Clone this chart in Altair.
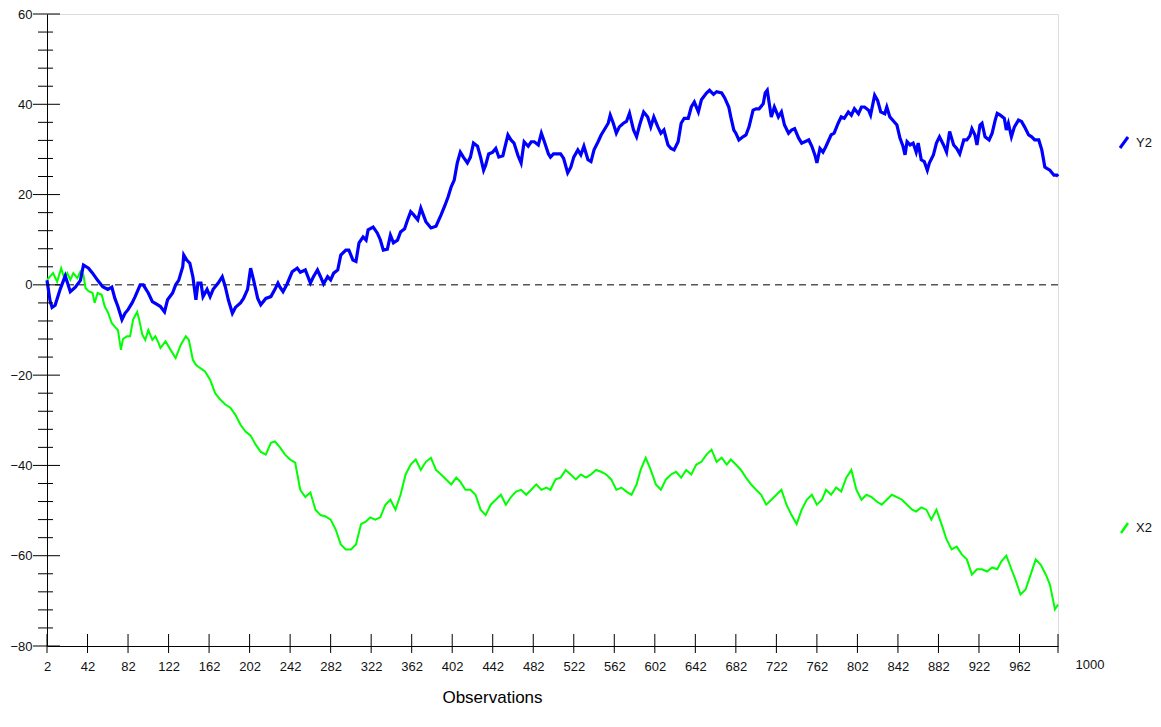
import altair as alt
import pandas as pd

# ---- data ----
y2_obs = [2,5,7,10,15,20,25,30,35,38,43,47,52,57,62,66,69,72,76,79,82,86,89,94,97,102,106,111,114,118,121,126,129,132,136,137,140,143,146,149,151,154,156,160,163,166,171,175,178,181,185,188,193,196,200,203,206,210,213,218,223,227,230,232,235,239,244,249,252,257,262,265,269,272,275,279,282,285,289,292,297,300,304,307,310,314,317,319,324,328,331,334,338,341,344,348,351,355,358,361,364,368,371,376,381,386,391,395,398,401,404,407,410,413,417,420,423,427,430,433,435,438,442,445,448,452,457,460,463,467,470,473,477,480,483,487,490,493,497,499,502,509,512,516,519,522,526,529,532,536,539,542,546,549,552,556,558,561,564,567,571,574,577,581,584,587,591,595,598,601,605,608,611,615,618,621,625,628,631,635,638,641,645,648,653,656,660,663,668,671,675,677,680,682,685,689,692,695,699,702,705,709,711,713,715,717,720,724,727,730,734,737,740,744,747,750,754,757,760,762,765,768,771,776,779,783,786,789,793,796,799,803,806,809,813,815,819,822,825,829,831,834,838,841,844,847,849,851,854,857,860,862,865,868,871,873,877,880,883,887,890,893,897,900,903,907,910,913,915,918,920,923,925,928,932,935,938,940,943,947,949,951,954,957,961,964,967,971,974,977,981,984,987,989,992,996,999,1000]
y2_val = [1.0,-3.5,-5,-4.5,-1,2,-1.5,-0.5,1,4.4,3.7,2.6,1,-0.4,-1,-0.5,-3,-4.8,-7.7,-6.3,-5.5,-4,-2.6,0,0,-1.8,-3.7,-4.4,-4.8,-6,-3.3,-1.8,0,1,4,6.6,5.5,4.8,1.8,-3.3,0.4,0.4,-2.6,-1,-2.6,-1,0.4,1.8,-0.4,-3.3,-6.3,-5,-4,-3,-1,3.7,1,-3,-4.4,-3,-2.6,-1,0.4,-0.5,-1.5,0.2,2.9,3.7,2.8,3.3,0.4,1.8,3.3,1.8,0.2,1.8,1.1,2.6,3.3,6.6,7.7,7.7,5.5,5.2,9.3,10.6,9.9,12.2,12.8,11.5,10,7.7,7.9,11,9.3,9.9,11.7,12.4,14.4,16.2,15.5,14.4,17,14,12.6,13,15.5,17.7,19.5,21.7,23.2,27,29.4,28.3,27,28.3,31.4,30.7,28.3,25.4,26.5,29,29.4,30.2,28.3,28.6,33.2,32.1,31.4,28.6,27,31.7,30.7,31.7,31.7,31,33.6,31.7,29,28.3,29,29,28,24.8,26,28.3,29.9,28.8,30.7,27.7,27.3,29.9,31.7,33.2,34.3,35.8,37.6,35.8,33.6,35,35.8,36.2,38,34.3,32.8,35.4,38.3,37.2,35,37.2,35,33.6,34.3,31,30.2,29.9,31.7,35.8,36.9,36.9,39.4,40.5,38.3,41,42.5,43.1,42.2,42.8,42.5,41.4,39.4,37.2,34.3,33.6,32.1,32.8,33.2,35,38.7,39,39,40.1,42.5,43.1,40.1,37.2,39.4,37.2,38.3,35.4,33.6,34.3,34.6,32.5,31.4,31.7,32.1,30.7,28.8,27,30.2,29.4,30.7,33.2,33.6,35.8,37.2,36.9,38.3,37.6,39,37.9,39.4,39.4,38.7,37.6,42,40.8,38.3,37.9,39.4,37.2,36.2,35.4,32.5,30.7,28.8,31.7,31,31.4,29.4,31.4,27.7,27.3,25.4,27,28.8,31.4,32.8,31,29.4,34,31,30.2,29,32.1,32.1,33,34.6,33.2,31,35.4,35.8,32.8,32.1,33.6,36.5,38,37.6,36.9,34.3,35.8,32.8,35,36.5,36.2,35,33.2,32.8,32.1,32.1,29.9,26.1,25.8,25.4,24.3,24.3,24]

x2_obs = [2,8,12,16,19,22,25,28,32,35,38,40,43,47,49,52,56,59,62,66,69,72,75,77,81,84,87,91,93,96,99,102,106,109,112,114,119,124,129,134,139,142,146,149,153,158,163,168,173,178,183,188,193,198,203,208,213,218,223,227,232,237,242,247,252,257,262,267,272,277,282,287,292,297,302,307,312,317,321,326,331,336,341,346,351,356,361,366,371,376,381,386,391,396,401,406,410,415,420,425,430,435,440,445,450,455,460,465,470,475,480,485,490,495,499,504,509,514,519,524,529,534,539,544,549,554,559,564,569,574,579,584,588,593,598,603,608,613,618,623,628,633,638,643,648,653,658,663,668,673,677,682,687,692,697,702,707,712,717,722,727,732,737,742,747,752,757,762,767,771,776,781,786,791,796,801,806,811,816,821,826,831,836,841,846,851,856,860,865,870,875,880,885,890,895,900,905,910,915,920,925,930,935,940,944,949,954,958,963,968,973,978,983,988,992,997,1000]
x2_val = [1.1,2.6,0.7,3.7,1.5,2.6,1.1,2.6,1.5,3,2.2,-0.7,-1.4,-1.8,-4,-1.8,-2.2,-4.8,-6,-8.5,-9.3,-10,-14.4,-12,-11.4,-11.4,-7.7,-6,-7.7,-11,-12.2,-10,-12.2,-11.4,-12.8,-14,-12.5,-14.4,-16.2,-13.3,-11.4,-12.2,-16.6,-17.7,-18.4,-19.2,-21,-24,-25.4,-26.5,-27.2,-28.8,-31,-32.5,-33.4,-35.4,-37,-37.6,-35,-34.7,-36,-37.6,-38.7,-39.4,-45.4,-47,-46,-49.8,-51,-51.3,-52,-54.2,-57.5,-58.6,-58.6,-57.5,-53,-52.4,-51.5,-52,-51.5,-48.7,-47.6,-49.8,-46.5,-42,-39.8,-38.7,-41,-39.2,-38.3,-41,-42,-43.1,-44.2,-42.7,-43.6,-45.4,-45.4,-46.5,-49.8,-51,-48.7,-47.6,-46.5,-48.7,-47,-45.8,-45.4,-46.5,-45.4,-44.2,-45.4,-44.9,-45.4,-43.1,-42.7,-41,-42,-43.1,-42,-42.7,-42,-41,-41.4,-42,-43.1,-45.4,-44.9,-45.8,-46.5,-44.2,-41,-38.3,-41,-44.2,-45.4,-43.1,-42,-41.4,-42.7,-41,-42,-39.8,-39.2,-37.6,-36.5,-39.2,-38.3,-39.8,-38.7,-39.8,-41,-42.7,-44.2,-45.4,-46.5,-48.7,-47.6,-46.5,-45.4,-48.7,-51,-53,-49.8,-47.6,-46.5,-48.7,-47.6,-45.4,-46.5,-44.9,-45.8,-42.7,-41,-45.4,-47.6,-46.5,-47,-48,-48.7,-47.6,-46.5,-47,-47.6,-48.7,-49.8,-50.2,-49.3,-49.8,-52,-49.8,-53,-56.4,-58.6,-58,-59.7,-60.8,-64.2,-63,-63,-63.5,-62.6,-63,-61.3,-60,-63,-65.3,-68.6,-67.5,-64.2,-60.8,-62,-64.2,-66.4,-71.9,-70.8]

series_names = ["Y2", "X2"]
series_colors = ["#0000ff", "#00ff00"]

x_tick_values = list(range(2, 1000, 40)) + [1000]
x_label_values = list(range(2, 1000, 40))
y_major = list(range(-80, 61, 20))
y_minor = [v for v in range(-80, 61, 4) if v % 20 != 0]
end_label = [1000]

# ---- build tables ----
df_y2 = pd.DataFrame({"obs": y2_obs, "value": y2_val, "series": "Y2"})
df_x2 = pd.DataFrame({"obs": x2_obs, "value": x2_val, "series": "X2"})

W, H = 1011, 632
FONT = "Liberation Sans"

xs = alt.Scale(domain=[2, 1000], nice=False, zero=False)
ys = alt.Scale(domain=[-80, 60], nice=False, zero=False)

x_axis = alt.Axis(values=x_label_values, ticks=False, grid=False, domain=True,
                  domainColor="#000", domainWidth=1, labelFont=FONT, labelFontSize=13,
                  labelColor="#111", labelPadding=20, labelBaseline="middle",
                  labelFlush=False, labelOverlap=False,
                  title="Observations", titleFont=FONT, titleFontSize=17,
                  titleFontWeight="normal", titleColor="#000", titleX=445, titleY=51,
                  titleAlign="center", titleBaseline="middle")
y_axis = alt.Axis(values=y_major, ticks=False, grid=False, domain=True,
                  domainColor="#000", domainWidth=1, labelFont=FONT, labelFontSize=13,
                  labelColor="#111", labelPadding=15, title=None, labelOverlap=False)

line_y2 = alt.Chart(df_y2).mark_line(color=series_colors[0], strokeWidth=3.2, interpolate="linear").encode(
    x=alt.X("obs:Q", scale=xs, axis=x_axis),
    y=alt.Y("value:Q", scale=ys, axis=y_axis),
)
line_x2 = alt.Chart(df_x2).mark_line(color=series_colors[1], strokeWidth=2, interpolate="linear").encode(
    x=alt.X("obs:Q", scale=xs),
    y=alt.Y("value:Q", scale=ys),
)

zero = alt.Chart(pd.DataFrame({"v": [0]})).mark_rule(color="#000", strokeWidth=1, strokeDash=[7, 5]).encode(
    y=alt.Y("v:Q", scale=ys)
)

ymaj = alt.Chart(pd.DataFrame({"v": y_major})).mark_rule(color="#000", strokeWidth=1).encode(
    y=alt.Y("v:Q", scale=ys), x=alt.value(-14), x2=alt.value(13)
)
ymin = alt.Chart(pd.DataFrame({"v": y_minor})).mark_rule(color="#000", strokeWidth=1).encode(
    y=alt.Y("v:Q", scale=ys), x=alt.value(-9), x2=alt.value(6)
)
xmaj = alt.Chart(pd.DataFrame({"v": x_tick_values})).mark_rule(color="#000", strokeWidth=1).encode(
    x=alt.X("v:Q", scale=xs), y=alt.value(H - 12), y2=alt.value(H + 7)
)
endlab = alt.Chart(pd.DataFrame({"v": end_label})).mark_text(
    font=FONT, fontSize=13, color="#111", dx=32, align="center", baseline="middle"
).encode(x=alt.X("v:Q", scale=xs), y=alt.value(H + 19), text=alt.Text("v:Q"))

leg_y2_line = alt.Chart(pd.DataFrame({"s": [series_names[0]]})).mark_rule(
    color=series_colors[0], strokeWidth=3).encode(
    x=alt.value(1073), x2=alt.value(1081), y=alt.value(134), y2=alt.value(123))
leg_x2_line = alt.Chart(pd.DataFrame({"s": [series_names[1]]})).mark_rule(
    color=series_colors[1], strokeWidth=2.5).encode(
    x=alt.value(1074), x2=alt.value(1081), y=alt.value(519), y2=alt.value(509))
leg_y2_txt = alt.Chart(pd.DataFrame({"s": [series_names[0]]})).mark_text(
    font=FONT, fontSize=13, color="#111", align="left", baseline="middle").encode(
    x=alt.value(1089), y=alt.value(129), text="s:N")
leg_x2_txt = alt.Chart(pd.DataFrame({"s": [series_names[1]]})).mark_text(
    font=FONT, fontSize=13, color="#111", align="left", baseline="middle").encode(
    x=alt.value(1089), y=alt.value(514), text="s:N")

chart = alt.layer(
    zero, line_x2, line_y2, ymaj, ymin, xmaj, endlab,
    leg_y2_line, leg_x2_line, leg_y2_txt, leg_x2_txt
).properties(
    width=W, height=H,
    autosize=alt.AutoSizeParams(type="none"),
    padding={"left": 39, "top": 6, "right": 95, "bottom": 62},
).configure_view(stroke=None).configure(background="white")

chart.save("out.html", embed_options={"renderer": "svg", "actions": False})
